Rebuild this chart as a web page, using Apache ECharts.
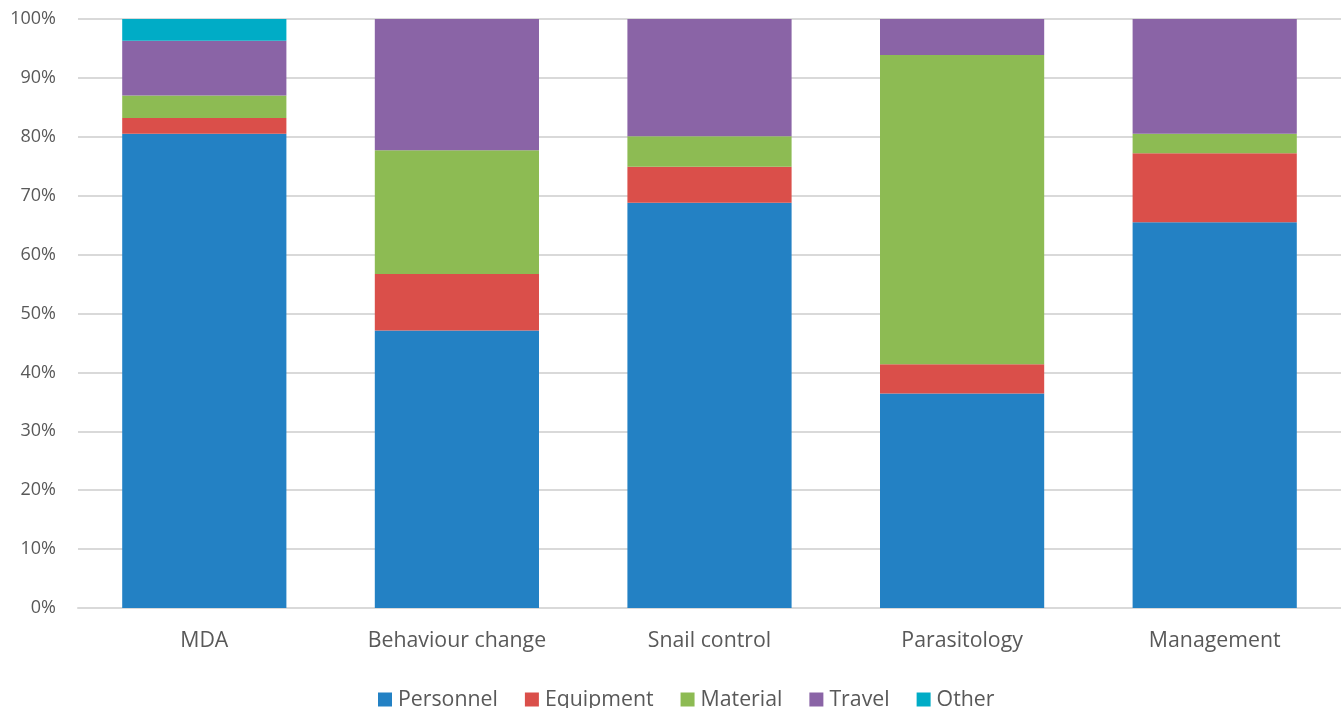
<!DOCTYPE html>
<html><head><meta charset="utf-8">
<script src="https://cdn.jsdelivr.net/npm/echarts@6/dist/echarts.min.js"></script>
<style>html,body{margin:0;padding:0;background:#fff}#c{width:1341px;height:708px}</style>
</head><body><div id="c"></div>
<script>
const categories = ['MDA', 'Behaviour change', 'Snail control', 'Parasitology', 'Management'];
const personnel = [80.5, 47.1, 68.8, 36.4, 65.5];
const equipment = [2.7, 9.6, 6.1, 5.0, 11.7];
const material = [3.8, 21.0, 5.2, 52.5, 3.3];
const travel = [9.3, 22.3, 19.9, 6.1, 19.5];
const other = [3.7, 0, 0, 0, 0];
const yTicks = [0, 10, 20, 30, 40, 50, 60, 70, 80, 90, 100];

const names = ['Personnel', 'Equipment', 'Material', 'Travel', 'Other'];
const colors = ['#2381C4', '#DA4F4A', '#8DBB53', '#8A64A6', '#00ACC6'];
const datasets = [personnel, equipment, material, travel, other];
const font = '"Open Sans", "Noto Sans", sans-serif';

const chart = echarts.init(document.getElementById('c'));
chart.setOption({
  animation: false,
  textStyle: { fontFamily: font },
  grid: { left: 78, right: 0, top: 19, bottom: 100, containLabel: false },
  legend: {
    bottom: -7, left: 373, padding: 5, itemWidth: 14, itemHeight: 14, itemGap: 27,
    icon: 'rect',
    textStyle: { fontSize: 21.3, color: '#595959', fontFamily: font, padding: [0, 0, 0, 1] },
    data: names
  },
  xAxis: {
    type: 'category', data: categories,
    axisLine: { lineStyle: { color: '#d9d9d9', width: 2 } },
    axisTick: { show: false },
    axisLabel: { fontSize: 21.3, color: '#595959', margin: 22, fontFamily: font }
  },
  yAxis: {
    type: 'value', min: yTicks[0], max: yTicks[yTicks.length - 1], interval: 10,
    axisLine: { show: false }, axisTick: { show: false },
    splitLine: { lineStyle: { color: '#d9d9d9', width: 2 } },
    axisLabel: { fontSize: 18, color: '#595959', margin: 22, formatter: v => v + '%', fontFamily: font }
  },
  series: datasets.map((d, i) => ({
    name: names[i], type: 'bar', stack: 'total', data: d,
    barWidth: '65%',
    itemStyle: { color: colors[i] }
  }))
});
</script></body></html>
